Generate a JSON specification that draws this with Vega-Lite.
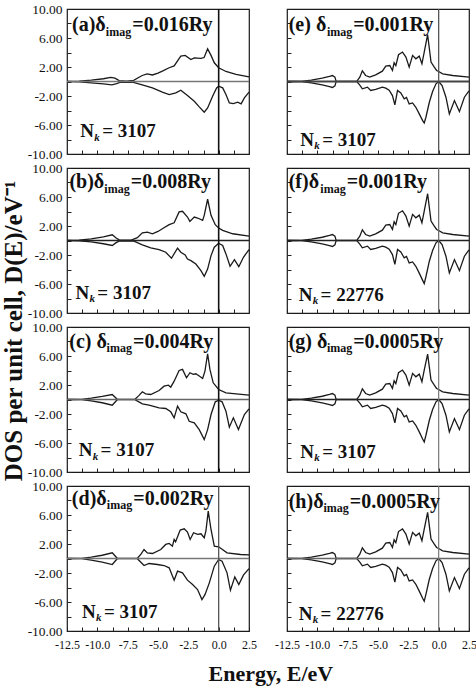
{
"$schema": "https://vega.github.io/schema/vega-lite/v6.json",
"background": "white",
"padding": {"left": 1, "top": 1, "right": 0, "bottom": 2},
"config": {
 "font": "Liberation Serif, Times New Roman, Times, serif",
 "view": {"stroke": "#1a1a1a", "strokeWidth": 1.2},
 "axis": {"grid": false, "domain": false, "tickSize": -4, "tickColor": "#222", "tickWidth": 1, "tickCount": 40, "labelFont": "Liberation Serif, Times New Roman, Times, serif", "labelColor": "#111", "labelOverlap": false, "labelFlush": false, "labelBound": false},
 "axisX": {"labelFontSize": 12, "labelPadding": 12},
 "axisY": {"labelFontSize": 13.5, "labelPadding": 9},
 "text": {"font": "Liberation Serif, Times New Roman, Times, serif", "fontWeight": "bold", "align": "left", "baseline": "alphabetic", "color": "#111"},
 "title": {"font": "Liberation Serif, Times New Roman, Times, serif", "fontWeight": "bold", "color": "#111"}
},
"datasets": {
 "a": [
  {"s":"u","E":-12.5,"D":0},{"s":"u","E":-11.5,"D":0.04},{"s":"u","E":-10.5,"D":0.18},{"s":"u","E":-9.5,"D":0.38},{"s":"u","E":-8.9,"D":0.58},{"s":"u","E":-8.55,"D":0.45},{"s":"u","E":-8.2,"D":0.12},{"s":"u","E":-7.6,"D":0.05},{"s":"u","E":-7.0,"D":0.15},{"s":"u","E":-6.6,"D":0.55},{"s":"u","E":-6.3,"D":0.83},{"s":"u","E":-5.9,"D":1.06},{"s":"u","E":-5.46,"D":0.9},{"s":"u","E":-5.0,"D":1.15},{"s":"u","E":-4.64,"D":1.43},{"s":"u","E":-4.08,"D":1.9},{"s":"u","E":-3.67,"D":2.15},{"s":"u","E":-3.12,"D":3.5},{"s":"u","E":-2.76,"D":3.6},{"s":"u","E":-2.29,"D":3.04},{"s":"u","E":-2.01,"D":3.27},{"s":"u","E":-1.46,"D":3.18},{"s":"u","E":-1.2,"D":3.3},{"s":"u","E":-0.91,"D":4.5},{"s":"u","E":-0.63,"D":3.6},{"s":"u","E":-0.36,"D":2.58},{"s":"u","E":0,"D":1.9},{"s":"u","E":0.6,"D":1.38},{"s":"u","E":1.43,"D":0.97},{"s":"u","E":2.5,"D":0.63},
  {"s":"d","E":-12.5,"D":0},{"s":"d","E":-11.5,"D":-0.04},{"s":"d","E":-10.5,"D":-0.18},{"s":"d","E":-9.5,"D":-0.33},{"s":"d","E":-8.8,"D":-0.46},{"s":"d","E":-8.4,"D":-0.3},{"s":"d","E":-8.1,"D":-0.1},{"s":"d","E":-7.1,"D":-0.1},{"s":"d","E":-6.3,"D":-0.46},{"s":"d","E":-5.46,"D":-0.88},{"s":"d","E":-4.64,"D":-1.47},{"s":"d","E":-4.08,"D":-1.8},{"s":"d","E":-3.53,"D":-1.57},{"s":"d","E":-3.12,"D":-1.2},{"s":"d","E":-2.57,"D":-1.94},{"s":"d","E":-2.01,"D":-2.72},{"s":"d","E":-1.6,"D":-3.5},{"s":"d","E":-1.19,"D":-4.24},{"s":"d","E":-0.91,"D":-3.64},{"s":"d","E":-0.5,"D":-2.03},{"s":"d","E":-0.17,"D":-0.88},{"s":"d","E":0,"D":-0.65},{"s":"d","E":0.33,"D":-0.88},{"s":"d","E":0.6,"D":-1.8},{"s":"d","E":0.88,"D":-2.95},{"s":"d","E":1.21,"D":-3.04},{"s":"d","E":1.57,"D":-2.86},{"s":"d","E":1.85,"D":-3.09},{"s":"d","E":2.12,"D":-2.26},{"s":"d","E":2.5,"D":-1.47}
 ],
 "b": [
  {"s":"u","E":-12.5,"D":0},{"s":"u","E":-11.5,"D":0.05},{"s":"u","E":-10.5,"D":0.22},{"s":"u","E":-9.5,"D":0.5},{"s":"u","E":-8.77,"D":0.79},{"s":"u","E":-8.45,"D":0.35},{"s":"u","E":-8.2,"D":0.08},{"s":"u","E":-7.2,"D":0.05},{"s":"u","E":-6.7,"D":0.4},{"s":"u","E":-6.29,"D":1.06},{"s":"u","E":-5.87,"D":1.16},{"s":"u","E":-5.46,"D":0.93},{"s":"u","E":-5.0,"D":1.25},{"s":"u","E":-4.64,"D":1.62},{"s":"u","E":-4.08,"D":2.18},{"s":"u","E":-3.67,"D":2.45},{"s":"u","E":-3.26,"D":3.94},{"s":"u","E":-2.98,"D":4.03},{"s":"u","E":-2.57,"D":3.24},{"s":"u","E":-2.37,"D":2.64},{"s":"u","E":-2.01,"D":3.24},{"s":"u","E":-1.74,"D":3.1},{"s":"u","E":-1.32,"D":2.78},{"s":"u","E":-1.19,"D":3.47},{"s":"u","E":-0.91,"D":5.69},{"s":"u","E":-0.63,"D":3.47},{"s":"u","E":-0.28,"D":2.18},{"s":"u","E":0,"D":1.71},{"s":"u","E":0.33,"D":1.39},{"s":"u","E":1.16,"D":0.93},{"s":"u","E":2.5,"D":0.6},
  {"s":"d","E":-12.5,"D":0},{"s":"d","E":-11.5,"D":-0.05},{"s":"d","E":-10.5,"D":-0.2},{"s":"d","E":-9.5,"D":-0.45},{"s":"d","E":-8.77,"D":-0.69},{"s":"d","E":-8.45,"D":-0.3},{"s":"d","E":-8.2,"D":-0.08},{"s":"d","E":-6.98,"D":-0.1},{"s":"d","E":-6.29,"D":-0.6},{"s":"d","E":-5.6,"D":-1.02},{"s":"d","E":-4.91,"D":-1.25},{"s":"d","E":-4.36,"D":-1.62},{"s":"d","E":-3.89,"D":-2.45},{"s":"d","E":-3.39,"D":-1.06},{"s":"d","E":-3.12,"D":-1.62},{"s":"d","E":-2.76,"D":-1.99},{"s":"d","E":-2.57,"D":-2.55},{"s":"d","E":-2.29,"D":-2.78},{"s":"d","E":-1.88,"D":-3.24},{"s":"d","E":-1.46,"D":-4.17},{"s":"d","E":-1.19,"D":-4.95},{"s":"d","E":-0.91,"D":-3.94},{"s":"d","E":-0.63,"D":-2.08},{"s":"d","E":-0.36,"D":-0.93},{"s":"d","E":0,"D":-0.37},{"s":"d","E":0.33,"D":-0.69},{"s":"d","E":0.6,"D":-1.85},{"s":"d","E":0.94,"D":-3.56},{"s":"d","E":1.3,"D":-2.64},{"s":"d","E":1.66,"D":-3.61},{"s":"d","E":2.04,"D":-2.31},{"s":"d","E":2.5,"D":-1.25}
 ],
 "c": [
  {"s":"u","E":-12.5,"D":0},{"s":"u","E":-11.3,"D":0.03},{"s":"u","E":-10.5,"D":0.18},{"s":"u","E":-9.6,"D":0.42},{"s":"u","E":-8.77,"D":0.69},{"s":"u","E":-8.36,"D":0.03},{"s":"u","E":-6.9,"D":0.03},{"s":"u","E":-6.6,"D":0.5},{"s":"u","E":-6.29,"D":1.06},{"s":"u","E":-6.02,"D":0.78},{"s":"u","E":-5.6,"D":0.69},{"s":"u","E":-4.91,"D":1.24},{"s":"u","E":-4.5,"D":1.84},{"s":"u","E":-4.14,"D":1.98},{"s":"u","E":-3.95,"D":1.7},{"s":"u","E":-3.67,"D":2.53},{"s":"u","E":-3.26,"D":4.0},{"s":"u","E":-2.98,"D":4.15},{"s":"u","E":-2.65,"D":3.0},{"s":"u","E":-2.37,"D":3.69},{"s":"u","E":-2.1,"D":3.46},{"s":"u","E":-1.88,"D":3.55},{"s":"u","E":-1.6,"D":3.23},{"s":"u","E":-1.32,"D":2.9},{"s":"u","E":-1.13,"D":3.92},{"s":"u","E":-0.91,"D":6.31},{"s":"u","E":-0.72,"D":4.15},{"s":"u","E":-0.45,"D":2.3},{"s":"u","E":0,"D":1.38},{"s":"u","E":0.6,"D":0.92},{"s":"u","E":2.5,"D":0.6},
  {"s":"d","E":-12.5,"D":0},{"s":"d","E":-11.3,"D":-0.03},{"s":"d","E":-10.5,"D":-0.2},{"s":"d","E":-9.6,"D":-0.45},{"s":"d","E":-8.77,"D":-0.78},{"s":"d","E":-8.36,"D":-0.03},{"s":"d","E":-6.9,"D":-0.03},{"s":"d","E":-6.29,"D":-0.6},{"s":"d","E":-5.74,"D":-0.78},{"s":"d","E":-4.91,"D":-1.15},{"s":"d","E":-4.36,"D":-1.24},{"s":"d","E":-3.95,"D":-1.7},{"s":"d","E":-3.67,"D":-2.53},{"s":"d","E":-3.39,"D":-0.92},{"s":"d","E":-3.12,"D":-1.7},{"s":"d","E":-2.7,"D":-1.98},{"s":"d","E":-2.43,"D":-3.0},{"s":"d","E":-2.01,"D":-3.23},{"s":"d","E":-1.6,"D":-4.15},{"s":"d","E":-1.19,"D":-5.53},{"s":"d","E":-0.91,"D":-4.15},{"s":"d","E":-0.63,"D":-2.07},{"s":"d","E":-0.28,"D":-0.32},{"s":"d","E":0,"D":-0.09},{"s":"d","E":0.28,"D":-0.32},{"s":"d","E":0.6,"D":-1.61},{"s":"d","E":0.88,"D":-3.82},{"s":"d","E":1.21,"D":-2.53},{"s":"d","E":1.63,"D":-4.15},{"s":"d","E":2.12,"D":-2.07},{"s":"d","E":2.5,"D":-1.3}
 ],
 "d": [
  {"s":"u","E":-12.5,"D":0},{"s":"u","E":-11.3,"D":0.03},{"s":"u","E":-10.5,"D":0.2},{"s":"u","E":-9.6,"D":0.45},{"s":"u","E":-8.77,"D":0.78},{"s":"u","E":-8.36,"D":0.03},{"s":"u","E":-6.7,"D":0.03},{"s":"u","E":-6.4,"D":0.6},{"s":"u","E":-6.15,"D":1.24},{"s":"u","E":-5.88,"D":0.78},{"s":"u","E":-5.46,"D":0.69},{"s":"u","E":-4.77,"D":1.24},{"s":"u","E":-4.36,"D":1.94},{"s":"u","E":-4.08,"D":2.07},{"s":"u","E":-3.81,"D":1.7},{"s":"u","E":-3.67,"D":2.63},{"s":"u","E":-3.55,"D":2.3},{"s":"u","E":-3.17,"D":3.92},{"s":"u","E":-2.84,"D":4.1},{"s":"u","E":-2.57,"D":3.64},{"s":"u","E":-2.35,"D":2.63},{"s":"u","E":-2.07,"D":3.55},{"s":"u","E":-1.74,"D":3.32},{"s":"u","E":-1.46,"D":3.41},{"s":"u","E":-1.19,"D":2.86},{"s":"u","E":-1.05,"D":3.8},{"s":"u","E":-0.86,"D":6.54},{"s":"u","E":-0.63,"D":4.0},{"s":"u","E":-0.36,"D":1.7},{"s":"u","E":0,"D":1.61},{"s":"u","E":0.69,"D":0.78},{"s":"u","E":1.8,"D":0.55},{"s":"u","E":2.5,"D":0.5},
  {"s":"d","E":-12.5,"D":0},{"s":"d","E":-11.3,"D":-0.03},{"s":"d","E":-10.5,"D":-0.22},{"s":"d","E":-9.6,"D":-0.5},{"s":"d","E":-8.77,"D":-0.83},{"s":"d","E":-8.36,"D":-0.03},{"s":"d","E":-6.7,"D":-0.03},{"s":"d","E":-6.15,"D":-0.97},{"s":"d","E":-5.74,"D":-0.69},{"s":"d","E":-5.05,"D":-0.83},{"s":"d","E":-4.5,"D":-0.97},{"s":"d","E":-4.08,"D":-1.29},{"s":"d","E":-3.67,"D":-3.0},{"s":"d","E":-3.39,"D":-1.75},{"s":"d","E":-2.98,"D":-1.98},{"s":"d","E":-2.57,"D":-2.99},{"s":"d","E":-2.15,"D":-3.59},{"s":"d","E":-1.74,"D":-4.29},{"s":"d","E":-1.38,"D":-5.67},{"s":"d","E":-1.13,"D":-4.98},{"s":"d","E":-0.77,"D":-3.36},{"s":"d","E":-0.36,"D":-1.06},{"s":"d","E":0,"D":-0.14},{"s":"d","E":0.28,"D":-0.37},{"s":"d","E":0.69,"D":-1.98},{"s":"d","E":0.97,"D":-4.38},{"s":"d","E":1.33,"D":-2.53},{"s":"d","E":1.66,"D":-3.6},{"s":"d","E":2.04,"D":-2.3},{"s":"d","E":2.5,"D":-1.4}
 ],
 "e": [
  {"s":"u","E":-12.5,"D":0},{"s":"u","E":-11.3,"D":0.02},{"s":"u","E":-10.5,"D":0.2},{"s":"u","E":-9.6,"D":0.45},{"s":"u","E":-9.0,"D":0.7},{"s":"u","E":-8.75,"D":0.82},{"s":"u","E":-8.55,"D":0.6},{"s":"u","E":-8.45,"D":0.02},{"s":"u","E":-6.75,"D":0.02},{"s":"u","E":-6.5,"D":0.6},{"s":"u","E":-6.29,"D":1.47},{"s":"u","E":-6.02,"D":0.83},{"s":"u","E":-5.68,"D":0.6},{"s":"u","E":-5.19,"D":0.92},{"s":"u","E":-4.64,"D":1.43},{"s":"u","E":-4.36,"D":2.12},{"s":"u","E":-4.03,"D":2.2},{"s":"u","E":-3.81,"D":1.52},{"s":"u","E":-3.67,"D":2.58},{"s":"u","E":-3.53,"D":2.2},{"s":"u","E":-3.31,"D":3.69},{"s":"u","E":-2.98,"D":4.06},{"s":"u","E":-2.7,"D":3.36},{"s":"u","E":-2.43,"D":1.98},{"s":"u","E":-2.15,"D":3.6},{"s":"u","E":-1.88,"D":3.13},{"s":"u","E":-1.6,"D":3.5},{"s":"u","E":-1.38,"D":2.44},{"s":"u","E":-1.19,"D":4.06},{"s":"u","E":-0.91,"D":6.45},{"s":"u","E":-0.63,"D":2.67},{"s":"u","E":-0.36,"D":1.98},{"s":"u","E":-0.17,"D":1.52},{"s":"u","E":0,"D":1.38},{"s":"u","E":0.33,"D":1.06},{"s":"u","E":1.16,"D":0.83},{"s":"u","E":2.5,"D":0.6},
  {"s":"d","E":-12.5,"D":0},{"s":"d","E":-11.3,"D":-0.02},{"s":"d","E":-10.5,"D":-0.2},{"s":"d","E":-9.6,"D":-0.45},{"s":"d","E":-9.0,"D":-0.7},{"s":"d","E":-8.75,"D":-0.82},{"s":"d","E":-8.55,"D":-0.6},{"s":"d","E":-8.45,"D":-0.02},{"s":"d","E":-6.75,"D":-0.02},{"s":"d","E":-6.5,"D":-0.5},{"s":"d","E":-6.29,"D":-1.01},{"s":"d","E":-5.87,"D":-0.78},{"s":"d","E":-5.6,"D":-1.24},{"s":"d","E":-5.19,"D":-1.1},{"s":"d","E":-4.64,"D":-0.78},{"s":"d","E":-4.36,"D":-0.92},{"s":"d","E":-4.08,"D":-1.2},{"s":"d","E":-3.81,"D":-1.94},{"s":"d","E":-3.61,"D":-3.23},{"s":"d","E":-3.39,"D":-1.24},{"s":"d","E":-3.12,"D":-1.57},{"s":"d","E":-2.84,"D":-2.4},{"s":"d","E":-2.65,"D":-2.2},{"s":"d","E":-2.43,"D":-3.09},{"s":"d","E":-2.15,"D":-2.95},{"s":"d","E":-1.88,"D":-3.55},{"s":"d","E":-1.6,"D":-4.47},{"s":"d","E":-1.32,"D":-5.39},{"s":"d","E":-1.19,"D":-5.71},{"s":"d","E":-1.05,"D":-4.93},{"s":"d","E":-0.77,"D":-2.86},{"s":"d","E":-0.5,"D":-1.38},{"s":"d","E":-0.22,"D":-0.32},{"s":"d","E":0,"D":0},{"s":"d","E":0.28,"D":-0.55},{"s":"d","E":0.6,"D":-2.17},{"s":"d","E":0.88,"D":-4.47},{"s":"d","E":1.3,"D":-2.63},{"s":"d","E":1.71,"D":-4.15},{"s":"d","E":2.12,"D":-2.17},{"s":"d","E":2.5,"D":-1.3}
 ],
 "f": [
  {"s":"u","E":-12.5,"D":0},{"s":"u","E":-11.3,"D":0.02},{"s":"u","E":-10.5,"D":0.2},{"s":"u","E":-9.6,"D":0.45},{"s":"u","E":-9.0,"D":0.7},{"s":"u","E":-8.75,"D":0.82},{"s":"u","E":-8.55,"D":0.6},{"s":"u","E":-8.45,"D":0.02},{"s":"u","E":-6.75,"D":0.02},{"s":"u","E":-6.5,"D":0.6},{"s":"u","E":-6.29,"D":1.47},{"s":"u","E":-6.02,"D":0.83},{"s":"u","E":-5.68,"D":0.6},{"s":"u","E":-5.19,"D":0.92},{"s":"u","E":-4.64,"D":1.43},{"s":"u","E":-4.36,"D":2.12},{"s":"u","E":-4.03,"D":2.2},{"s":"u","E":-3.81,"D":1.52},{"s":"u","E":-3.67,"D":2.58},{"s":"u","E":-3.53,"D":2.2},{"s":"u","E":-3.31,"D":3.75},{"s":"u","E":-2.98,"D":4.1},{"s":"u","E":-2.7,"D":3.36},{"s":"u","E":-2.43,"D":1.98},{"s":"u","E":-2.15,"D":3.6},{"s":"u","E":-1.88,"D":3.13},{"s":"u","E":-1.6,"D":3.5},{"s":"u","E":-1.38,"D":2.44},{"s":"u","E":-1.19,"D":4.06},{"s":"u","E":-0.91,"D":6.45},{"s":"u","E":-0.63,"D":2.67},{"s":"u","E":-0.36,"D":1.98},{"s":"u","E":-0.17,"D":1.52},{"s":"u","E":0,"D":1.38},{"s":"u","E":0.33,"D":1.06},{"s":"u","E":1.16,"D":0.83},{"s":"u","E":2.5,"D":0.6},
  {"s":"d","E":-12.5,"D":0},{"s":"d","E":-11.3,"D":-0.02},{"s":"d","E":-10.5,"D":-0.2},{"s":"d","E":-9.6,"D":-0.45},{"s":"d","E":-9.0,"D":-0.7},{"s":"d","E":-8.75,"D":-0.82},{"s":"d","E":-8.55,"D":-0.6},{"s":"d","E":-8.45,"D":-0.02},{"s":"d","E":-6.75,"D":-0.02},{"s":"d","E":-6.5,"D":-0.5},{"s":"d","E":-6.29,"D":-1.01},{"s":"d","E":-5.87,"D":-0.78},{"s":"d","E":-5.6,"D":-1.24},{"s":"d","E":-5.19,"D":-1.1},{"s":"d","E":-4.64,"D":-0.78},{"s":"d","E":-4.36,"D":-0.92},{"s":"d","E":-4.08,"D":-1.2},{"s":"d","E":-3.81,"D":-1.94},{"s":"d","E":-3.61,"D":-3.3},{"s":"d","E":-3.39,"D":-1.24},{"s":"d","E":-3.12,"D":-1.57},{"s":"d","E":-2.84,"D":-2.4},{"s":"d","E":-2.65,"D":-2.2},{"s":"d","E":-2.43,"D":-3.09},{"s":"d","E":-2.15,"D":-2.95},{"s":"d","E":-1.88,"D":-3.55},{"s":"d","E":-1.6,"D":-4.5},{"s":"d","E":-1.32,"D":-5.5},{"s":"d","E":-1.19,"D":-5.94},{"s":"d","E":-1.05,"D":-5.0},{"s":"d","E":-0.77,"D":-2.86},{"s":"d","E":-0.5,"D":-1.38},{"s":"d","E":-0.22,"D":-0.32},{"s":"d","E":0,"D":0},{"s":"d","E":0.28,"D":-0.55},{"s":"d","E":0.6,"D":-2.17},{"s":"d","E":0.88,"D":-4.47},{"s":"d","E":1.3,"D":-2.63},{"s":"d","E":1.71,"D":-4.15},{"s":"d","E":2.12,"D":-2.17},{"s":"d","E":2.5,"D":-1.3}
 ],
 "g": [
  {"s":"u","E":-12.5,"D":0},{"s":"u","E":-11.3,"D":0.02},{"s":"u","E":-10.5,"D":0.2},{"s":"u","E":-9.6,"D":0.45},{"s":"u","E":-9.0,"D":0.7},{"s":"u","E":-8.75,"D":0.82},{"s":"u","E":-8.55,"D":0.6},{"s":"u","E":-8.45,"D":0.02},{"s":"u","E":-6.75,"D":0.02},{"s":"u","E":-6.5,"D":0.6},{"s":"u","E":-6.29,"D":1.47},{"s":"u","E":-6.02,"D":0.83},{"s":"u","E":-5.68,"D":0.6},{"s":"u","E":-5.19,"D":0.92},{"s":"u","E":-4.64,"D":1.43},{"s":"u","E":-4.36,"D":2.12},{"s":"u","E":-4.03,"D":2.2},{"s":"u","E":-3.81,"D":1.52},{"s":"u","E":-3.67,"D":2.58},{"s":"u","E":-3.53,"D":2.2},{"s":"u","E":-3.31,"D":3.69},{"s":"u","E":-2.98,"D":4.06},{"s":"u","E":-2.7,"D":3.36},{"s":"u","E":-2.43,"D":1.98},{"s":"u","E":-2.15,"D":3.6},{"s":"u","E":-1.88,"D":3.13},{"s":"u","E":-1.6,"D":3.5},{"s":"u","E":-1.38,"D":2.44},{"s":"u","E":-1.19,"D":4.06},{"s":"u","E":-0.91,"D":6.27},{"s":"u","E":-0.63,"D":2.67},{"s":"u","E":-0.36,"D":1.98},{"s":"u","E":-0.17,"D":1.52},{"s":"u","E":0,"D":1.38},{"s":"u","E":0.33,"D":1.06},{"s":"u","E":1.16,"D":0.83},{"s":"u","E":2.5,"D":0.6},
  {"s":"d","E":-12.5,"D":0},{"s":"d","E":-11.3,"D":-0.02},{"s":"d","E":-10.5,"D":-0.2},{"s":"d","E":-9.6,"D":-0.45},{"s":"d","E":-9.0,"D":-0.7},{"s":"d","E":-8.75,"D":-0.82},{"s":"d","E":-8.55,"D":-0.6},{"s":"d","E":-8.45,"D":-0.02},{"s":"d","E":-6.75,"D":-0.02},{"s":"d","E":-6.5,"D":-0.5},{"s":"d","E":-6.29,"D":-1.01},{"s":"d","E":-5.87,"D":-0.78},{"s":"d","E":-5.6,"D":-1.24},{"s":"d","E":-5.19,"D":-1.1},{"s":"d","E":-4.64,"D":-0.78},{"s":"d","E":-4.36,"D":-0.92},{"s":"d","E":-4.08,"D":-1.2},{"s":"d","E":-3.81,"D":-1.94},{"s":"d","E":-3.61,"D":-3.23},{"s":"d","E":-3.39,"D":-1.24},{"s":"d","E":-3.12,"D":-1.57},{"s":"d","E":-2.84,"D":-2.4},{"s":"d","E":-2.65,"D":-2.2},{"s":"d","E":-2.43,"D":-3.09},{"s":"d","E":-2.15,"D":-2.95},{"s":"d","E":-1.88,"D":-3.55},{"s":"d","E":-1.6,"D":-4.47},{"s":"d","E":-1.32,"D":-5.45},{"s":"d","E":-1.19,"D":-5.85},{"s":"d","E":-1.05,"D":-4.93},{"s":"d","E":-0.77,"D":-2.86},{"s":"d","E":-0.5,"D":-1.38},{"s":"d","E":-0.22,"D":-0.32},{"s":"d","E":0,"D":0},{"s":"d","E":0.28,"D":-0.55},{"s":"d","E":0.6,"D":-2.17},{"s":"d","E":0.88,"D":-4.47},{"s":"d","E":1.3,"D":-2.63},{"s":"d","E":1.71,"D":-4.15},{"s":"d","E":2.12,"D":-2.17},{"s":"d","E":2.5,"D":-1.3}
 ],
 "h": [
  {"s":"u","E":-12.5,"D":0},{"s":"u","E":-11.3,"D":0.02},{"s":"u","E":-10.5,"D":0.2},{"s":"u","E":-9.6,"D":0.45},{"s":"u","E":-9.0,"D":0.7},{"s":"u","E":-8.75,"D":0.82},{"s":"u","E":-8.55,"D":0.6},{"s":"u","E":-8.45,"D":0.02},{"s":"u","E":-6.75,"D":0.02},{"s":"u","E":-6.5,"D":0.6},{"s":"u","E":-6.29,"D":1.47},{"s":"u","E":-6.02,"D":0.83},{"s":"u","E":-5.68,"D":0.6},{"s":"u","E":-5.19,"D":0.92},{"s":"u","E":-4.64,"D":1.43},{"s":"u","E":-4.36,"D":2.12},{"s":"u","E":-4.03,"D":2.2},{"s":"u","E":-3.81,"D":1.52},{"s":"u","E":-3.67,"D":2.58},{"s":"u","E":-3.53,"D":2.2},{"s":"u","E":-3.31,"D":3.72},{"s":"u","E":-2.98,"D":4.08},{"s":"u","E":-2.7,"D":3.36},{"s":"u","E":-2.43,"D":1.98},{"s":"u","E":-2.15,"D":3.6},{"s":"u","E":-1.88,"D":3.13},{"s":"u","E":-1.6,"D":3.5},{"s":"u","E":-1.38,"D":2.44},{"s":"u","E":-1.19,"D":4.06},{"s":"u","E":-0.91,"D":6.36},{"s":"u","E":-0.63,"D":2.67},{"s":"u","E":-0.36,"D":1.98},{"s":"u","E":-0.17,"D":1.52},{"s":"u","E":0,"D":1.38},{"s":"u","E":0.33,"D":1.06},{"s":"u","E":1.16,"D":0.83},{"s":"u","E":2.5,"D":0.6},
  {"s":"d","E":-12.5,"D":0},{"s":"d","E":-11.3,"D":-0.02},{"s":"d","E":-10.5,"D":-0.2},{"s":"d","E":-9.6,"D":-0.45},{"s":"d","E":-9.0,"D":-0.7},{"s":"d","E":-8.75,"D":-0.82},{"s":"d","E":-8.55,"D":-0.6},{"s":"d","E":-8.45,"D":-0.02},{"s":"d","E":-6.75,"D":-0.02},{"s":"d","E":-6.5,"D":-0.5},{"s":"d","E":-6.29,"D":-1.01},{"s":"d","E":-5.87,"D":-0.78},{"s":"d","E":-5.6,"D":-1.24},{"s":"d","E":-5.19,"D":-1.1},{"s":"d","E":-4.64,"D":-0.78},{"s":"d","E":-4.36,"D":-0.92},{"s":"d","E":-4.08,"D":-1.2},{"s":"d","E":-3.81,"D":-1.94},{"s":"d","E":-3.61,"D":-3.27},{"s":"d","E":-3.39,"D":-1.24},{"s":"d","E":-3.12,"D":-1.57},{"s":"d","E":-2.84,"D":-2.4},{"s":"d","E":-2.65,"D":-2.2},{"s":"d","E":-2.43,"D":-3.09},{"s":"d","E":-2.15,"D":-2.95},{"s":"d","E":-1.88,"D":-3.55},{"s":"d","E":-1.6,"D":-4.5},{"s":"d","E":-1.32,"D":-5.48},{"s":"d","E":-1.19,"D":-5.9},{"s":"d","E":-1.05,"D":-4.95},{"s":"d","E":-0.77,"D":-2.86},{"s":"d","E":-0.5,"D":-1.38},{"s":"d","E":-0.22,"D":-0.32},{"s":"d","E":0,"D":0},{"s":"d","E":0.28,"D":-0.55},{"s":"d","E":0.6,"D":-2.17},{"s":"d","E":0.88,"D":-4.47},{"s":"d","E":1.3,"D":-2.63},{"s":"d","E":1.71,"D":-4.15},{"s":"d","E":2.12,"D":-2.17},{"s":"d","E":2.5,"D":-1.3}
 ]
},
"title": {"text": "DOS per unit cell, D(E)/eV⁻¹", "orient": "left", "anchor": "middle", "fontSize": 25, "offset": 0, "dx": 12},
"vconcat": [
 {
  "title": {"text": "Energy, E/eV", "orient": "bottom", "anchor": "middle", "fontSize": 22, "offset": 13, "dx": 19},
  "columns": 2, "spacing": {"row": 14, "column": 38}, "bounds": "flush",
  "concat": [
     {"width": 182, "height": 145, "data": {"values": [{}]}, "layer": [
      {"data": {"name": "a"}, "mark": {"type": "line", "color": "#1a1a1a", "strokeWidth": 1.3}, "encoding": {
       "x": {"field": "E", "type": "quantitative", "scale": {"domain": [-12.5, 2.5], "nice": false, "zero": false}, "axis": {"title": null, "tickCount": 40, "labelOverlap": false, "values": [-12.5,-11.25,-10,-8.75,-7.5,-6.25,-5,-3.75,-2.5,-1.25,0,1.25,2.5], "labels": false}},
       "y": {"field": "D", "type": "quantitative", "scale": {"domain": [-10, 10], "nice": false, "zero": false}, "axis": {"title": null, "tickCount": 40, "labelOverlap": false, "values": [-10,-8,-6,-4,-2,0,2,4,6,8,10], "labelExpr": "(datum.value + 10) % 4 == 0 ? replace(format(datum.value, '.2f'), '−', '-') : ''"}},
       "detail": {"field": "s"}}},
      {"mark": {"type": "rule", "color": "#777", "strokeWidth": 1.4}, "encoding": {"y": {"datum": 0, "type": "quantitative"}}},
      {"mark": {"type": "rule", "color": "#111", "strokeWidth": 1.6}, "encoding": {"x": {"datum": 0, "type": "quantitative"}}},
      {"mark": {"type": "text", "fontSize": 20}, "encoding": {"x": {"datum": -12.09, "type": "quantitative"}, "y": {"datum": 6.9, "type": "quantitative"}, "text": {"value": "(a)δ"}}},
      {"mark": {"type": "text", "fontSize": 12}, "encoding": {"x": {"datum": -9.3, "type": "quantitative"}, "y": {"datum": 6.3, "type": "quantitative"}, "text": {"value": "imag"}}},
      {"mark": {"type": "text", "fontSize": 20}, "encoding": {"x": {"datum": -7.12, "type": "quantitative"}, "y": {"datum": 6.9, "type": "quantitative"}, "text": {"value": "=0.016Ry"}}},
      {"mark": {"type": "text", "fontSize": 19}, "encoding": {"x": {"datum": -11.4, "type": "quantitative"}, "y": {"datum": -7.7, "type": "quantitative"}, "text": {"value": "N"}}},
      {"mark": {"type": "text", "fontSize": 11, "fontStyle": "italic"}, "encoding": {"x": {"datum": -10.25, "type": "quantitative"}, "y": {"datum": -8.15, "type": "quantitative"}, "text": {"value": "k"}}},
      {"mark": {"type": "text", "fontSize": 19}, "encoding": {"x": {"datum": -9.6, "type": "quantitative"}, "y": {"datum": -7.7, "type": "quantitative"}, "text": {"value": "= 3107"}}}
     ]},
     {"width": 182, "height": 145, "data": {"values": [{}]}, "layer": [
      {"data": {"name": "e"}, "mark": {"type": "line", "color": "#1a1a1a", "strokeWidth": 1.3}, "encoding": {
       "x": {"field": "E", "type": "quantitative", "scale": {"domain": [-12.5, 2.5], "nice": false, "zero": false}, "axis": {"title": null, "tickCount": 40, "labelOverlap": false, "values": [-12.5,-11.25,-10,-8.75,-7.5,-6.25,-5,-3.75,-2.5,-1.25,0,1.25,2.5], "labels": false}},
       "y": {"field": "D", "type": "quantitative", "scale": {"domain": [-10, 10], "nice": false, "zero": false}, "axis": {"title": null, "tickCount": 40, "labelOverlap": false, "values": [-10,-8,-6,-4,-2,0,2,4,6,8,10], "labels": false}},
       "detail": {"field": "s"}}},
      {"mark": {"type": "rule", "color": "#444", "strokeWidth": 1.8}, "encoding": {"y": {"datum": 0, "type": "quantitative"}}},
      {"mark": {"type": "rule", "color": "#555", "strokeWidth": 1.3}, "encoding": {"x": {"datum": 0, "type": "quantitative"}}},
      {"mark": {"type": "text", "fontSize": 20}, "encoding": {"x": {"datum": -12.36, "type": "quantitative"}, "y": {"datum": 6.9, "type": "quantitative"}, "text": {"value": "(e) δ"}}},
      {"mark": {"type": "text", "fontSize": 12}, "encoding": {"x": {"datum": -9.2, "type": "quantitative"}, "y": {"datum": 6.3, "type": "quantitative"}, "text": {"value": "imag"}}},
      {"mark": {"type": "text", "fontSize": 20}, "encoding": {"x": {"datum": -7.05, "type": "quantitative"}, "y": {"datum": 6.9, "type": "quantitative"}, "text": {"value": "=0.001Ry"}}},
      {"mark": {"type": "text", "fontSize": 19}, "encoding": {"x": {"datum": -11.4, "type": "quantitative"}, "y": {"datum": -8.9, "type": "quantitative"}, "text": {"value": "N"}}},
      {"mark": {"type": "text", "fontSize": 11, "fontStyle": "italic"}, "encoding": {"x": {"datum": -10.25, "type": "quantitative"}, "y": {"datum": -9.35, "type": "quantitative"}, "text": {"value": "k"}}},
      {"mark": {"type": "text", "fontSize": 19}, "encoding": {"x": {"datum": -9.6, "type": "quantitative"}, "y": {"datum": -8.9, "type": "quantitative"}, "text": {"value": "= 3107"}}}
     ]},
     {"width": 182, "height": 145, "data": {"values": [{}]}, "layer": [
      {"data": {"name": "b"}, "mark": {"type": "line", "color": "#1a1a1a", "strokeWidth": 1.3}, "encoding": {
       "x": {"field": "E", "type": "quantitative", "scale": {"domain": [-12.5, 2.5], "nice": false, "zero": false}, "axis": {"title": null, "tickCount": 40, "labelOverlap": false, "values": [-12.5,-11.25,-10,-8.75,-7.5,-6.25,-5,-3.75,-2.5,-1.25,0,1.25,2.5], "labels": false}},
       "y": {"field": "D", "type": "quantitative", "scale": {"domain": [-10, 10], "nice": false, "zero": false}, "axis": {"title": null, "tickCount": 40, "labelOverlap": false, "values": [-10,-8,-6,-4,-2,0,2,4,6,8,10], "labelExpr": "(datum.value + 10) % 4 == 0 ? replace(format(datum.value, '.2f'), '−', '-') : ''"}},
       "detail": {"field": "s"}}},
      {"mark": {"type": "rule", "color": "#222", "strokeWidth": 1.3}, "encoding": {"y": {"datum": 0, "type": "quantitative"}}},
      {"mark": {"type": "rule", "color": "#111", "strokeWidth": 1.6}, "encoding": {"x": {"datum": 0, "type": "quantitative"}}},
      {"mark": {"type": "text", "fontSize": 20}, "encoding": {"x": {"datum": -12.3, "type": "quantitative"}, "y": {"datum": 7.2, "type": "quantitative"}, "text": {"value": "(b)δ"}}},
      {"mark": {"type": "text", "fontSize": 12}, "encoding": {"x": {"datum": -9.42, "type": "quantitative"}, "y": {"datum": 6.6, "type": "quantitative"}, "text": {"value": "imag"}}},
      {"mark": {"type": "text", "fontSize": 20}, "encoding": {"x": {"datum": -7.24, "type": "quantitative"}, "y": {"datum": 7.2, "type": "quantitative"}, "text": {"value": "=0.008Ry"}}},
      {"mark": {"type": "text", "fontSize": 19}, "encoding": {"x": {"datum": -11.8, "type": "quantitative"}, "y": {"datum": -8.0, "type": "quantitative"}, "text": {"value": "N"}}},
      {"mark": {"type": "text", "fontSize": 11, "fontStyle": "italic"}, "encoding": {"x": {"datum": -10.65, "type": "quantitative"}, "y": {"datum": -8.45, "type": "quantitative"}, "text": {"value": "k"}}},
      {"mark": {"type": "text", "fontSize": 19}, "encoding": {"x": {"datum": -10.0, "type": "quantitative"}, "y": {"datum": -8.0, "type": "quantitative"}, "text": {"value": "= 3107"}}}
     ]},
     {"width": 182, "height": 145, "data": {"values": [{}]}, "layer": [
      {"data": {"name": "f"}, "mark": {"type": "line", "color": "#1a1a1a", "strokeWidth": 1.3}, "encoding": {
       "x": {"field": "E", "type": "quantitative", "scale": {"domain": [-12.5, 2.5], "nice": false, "zero": false}, "axis": {"title": null, "tickCount": 40, "labelOverlap": false, "values": [-12.5,-11.25,-10,-8.75,-7.5,-6.25,-5,-3.75,-2.5,-1.25,0,1.25,2.5], "labels": false}},
       "y": {"field": "D", "type": "quantitative", "scale": {"domain": [-10, 10], "nice": false, "zero": false}, "axis": {"title": null, "tickCount": 40, "labelOverlap": false, "values": [-10,-8,-6,-4,-2,0,2,4,6,8,10], "labels": false}},
       "detail": {"field": "s"}}},
      {"mark": {"type": "rule", "color": "#222", "strokeWidth": 1.3}, "encoding": {"y": {"datum": 0, "type": "quantitative"}}},
      {"mark": {"type": "rule", "color": "#666", "strokeWidth": 1.2}, "encoding": {"x": {"datum": 0, "type": "quantitative"}}},
      {"mark": {"type": "text", "fontSize": 20}, "encoding": {"x": {"datum": -12.36, "type": "quantitative"}, "y": {"datum": 7.2, "type": "quantitative"}, "text": {"value": "(f)δ"}}},
      {"mark": {"type": "text", "fontSize": 12}, "encoding": {"x": {"datum": -9.75, "type": "quantitative"}, "y": {"datum": 6.6, "type": "quantitative"}, "text": {"value": "imag"}}},
      {"mark": {"type": "text", "fontSize": 20}, "encoding": {"x": {"datum": -7.57, "type": "quantitative"}, "y": {"datum": 7.2, "type": "quantitative"}, "text": {"value": "=0.001Ry"}}},
      {"mark": {"type": "text", "fontSize": 19}, "encoding": {"x": {"datum": -11.53, "type": "quantitative"}, "y": {"datum": -8.3, "type": "quantitative"}, "text": {"value": "N"}}},
      {"mark": {"type": "text", "fontSize": 11, "fontStyle": "italic"}, "encoding": {"x": {"datum": -10.38, "type": "quantitative"}, "y": {"datum": -8.75, "type": "quantitative"}, "text": {"value": "k"}}},
      {"mark": {"type": "text", "fontSize": 19}, "encoding": {"x": {"datum": -9.73, "type": "quantitative"}, "y": {"datum": -8.3, "type": "quantitative"}, "text": {"value": "= 22776"}}}
     ]},
     {"width": 182, "height": 145, "data": {"values": [{}]}, "layer": [
      {"data": {"name": "c"}, "mark": {"type": "line", "color": "#1a1a1a", "strokeWidth": 1.3}, "encoding": {
       "x": {"field": "E", "type": "quantitative", "scale": {"domain": [-12.5, 2.5], "nice": false, "zero": false}, "axis": {"title": null, "tickCount": 40, "labelOverlap": false, "values": [-12.5,-11.25,-10,-8.75,-7.5,-6.25,-5,-3.75,-2.5,-1.25,0,1.25,2.5], "labels": false}},
       "y": {"field": "D", "type": "quantitative", "scale": {"domain": [-10, 10], "nice": false, "zero": false}, "axis": {"title": null, "tickCount": 40, "labelOverlap": false, "values": [-10,-8,-6,-4,-2,0,2,4,6,8,10], "labelExpr": "(datum.value + 10) % 4 == 0 ? replace(format(datum.value, '.2f'), '−', '-') : ''"}},
       "detail": {"field": "s"}}},
      {"mark": {"type": "rule", "color": "#666", "strokeWidth": 1.4}, "encoding": {"y": {"datum": 0, "type": "quantitative"}}},
      {"mark": {"type": "rule", "color": "#111", "strokeWidth": 1.6}, "encoding": {"x": {"datum": 0, "type": "quantitative"}}},
      {"mark": {"type": "text", "fontSize": 20}, "encoding": {"x": {"datum": -12.31, "type": "quantitative"}, "y": {"datum": 7.1, "type": "quantitative"}, "text": {"value": "(c) δ"}}},
      {"mark": {"type": "text", "fontSize": 12}, "encoding": {"x": {"datum": -9.24, "type": "quantitative"}, "y": {"datum": 6.5, "type": "quantitative"}, "text": {"value": "imag"}}},
      {"mark": {"type": "text", "fontSize": 20}, "encoding": {"x": {"datum": -7.06, "type": "quantitative"}, "y": {"datum": 7.1, "type": "quantitative"}, "text": {"value": "=0.004Ry"}}},
      {"mark": {"type": "text", "fontSize": 19}, "encoding": {"x": {"datum": -11.53, "type": "quantitative"}, "y": {"datum": -7.85, "type": "quantitative"}, "text": {"value": "N"}}},
      {"mark": {"type": "text", "fontSize": 11, "fontStyle": "italic"}, "encoding": {"x": {"datum": -10.38, "type": "quantitative"}, "y": {"datum": -8.3, "type": "quantitative"}, "text": {"value": "k"}}},
      {"mark": {"type": "text", "fontSize": 19}, "encoding": {"x": {"datum": -9.73, "type": "quantitative"}, "y": {"datum": -7.85, "type": "quantitative"}, "text": {"value": "= 3107"}}}
     ]},
     {"width": 182, "height": 145, "data": {"values": [{}]}, "layer": [
      {"data": {"name": "g"}, "mark": {"type": "line", "color": "#1a1a1a", "strokeWidth": 1.3}, "encoding": {
       "x": {"field": "E", "type": "quantitative", "scale": {"domain": [-12.5, 2.5], "nice": false, "zero": false}, "axis": {"title": null, "tickCount": 40, "labelOverlap": false, "values": [-12.5,-11.25,-10,-8.75,-7.5,-6.25,-5,-3.75,-2.5,-1.25,0,1.25,2.5], "labels": false}},
       "y": {"field": "D", "type": "quantitative", "scale": {"domain": [-10, 10], "nice": false, "zero": false}, "axis": {"title": null, "tickCount": 40, "labelOverlap": false, "values": [-10,-8,-6,-4,-2,0,2,4,6,8,10], "labels": false}},
       "detail": {"field": "s"}}},
      {"mark": {"type": "rule", "color": "#222", "strokeWidth": 1.3}, "encoding": {"y": {"datum": 0, "type": "quantitative"}}},
      {"mark": {"type": "rule", "color": "#777", "strokeWidth": 1.2}, "encoding": {"x": {"datum": 0, "type": "quantitative"}}},
      {"mark": {"type": "text", "fontSize": 20}, "encoding": {"x": {"datum": -12.36, "type": "quantitative"}, "y": {"datum": 7.1, "type": "quantitative"}, "text": {"value": "(g) δ"}}},
      {"mark": {"type": "text", "fontSize": 12}, "encoding": {"x": {"datum": -9.2, "type": "quantitative"}, "y": {"datum": 6.5, "type": "quantitative"}, "text": {"value": "imag"}}},
      {"mark": {"type": "text", "fontSize": 20}, "encoding": {"x": {"datum": -7.05, "type": "quantitative"}, "y": {"datum": 7.1, "type": "quantitative"}, "text": {"value": "=0.0005Ry"}}},
      {"mark": {"type": "text", "fontSize": 19}, "encoding": {"x": {"datum": -11.4, "type": "quantitative"}, "y": {"datum": -8.0, "type": "quantitative"}, "text": {"value": "N"}}},
      {"mark": {"type": "text", "fontSize": 11, "fontStyle": "italic"}, "encoding": {"x": {"datum": -10.25, "type": "quantitative"}, "y": {"datum": -8.45, "type": "quantitative"}, "text": {"value": "k"}}},
      {"mark": {"type": "text", "fontSize": 19}, "encoding": {"x": {"datum": -9.6, "type": "quantitative"}, "y": {"datum": -8.0, "type": "quantitative"}, "text": {"value": "= 3107"}}}
     ]},
     {"width": 182, "height": 145, "data": {"values": [{}]}, "layer": [
      {"data": {"name": "d"}, "mark": {"type": "line", "color": "#1a1a1a", "strokeWidth": 1.3}, "encoding": {
       "x": {"field": "E", "type": "quantitative", "scale": {"domain": [-12.5, 2.5], "nice": false, "zero": false}, "axis": {"title": null, "tickCount": 40, "labelOverlap": false, "values": [-12.5,-11.25,-10,-8.75,-7.5,-6.25,-5,-3.75,-2.5,-1.25,0,1.25,2.5], "labelExpr": "abs(datum.value * 0.4 - round(datum.value * 0.4)) < 0.01 ? replace(format(datum.value, '.1f'), '−', '-') : ''"}},
       "y": {"field": "D", "type": "quantitative", "scale": {"domain": [-10, 10], "nice": false, "zero": false}, "axis": {"title": null, "tickCount": 40, "labelOverlap": false, "values": [-10,-8,-6,-4,-2,0,2,4,6,8,10], "labelExpr": "(datum.value + 10) % 4 == 0 ? replace(format(datum.value, '.2f'), '−', '-') : ''"}},
       "detail": {"field": "s"}}},
      {"mark": {"type": "rule", "color": "#777", "strokeWidth": 1.4}, "encoding": {"y": {"datum": 0, "type": "quantitative"}}},
      {"mark": {"type": "rule", "color": "#555", "strokeWidth": 1.3}, "encoding": {"x": {"datum": 0, "type": "quantitative"}}},
      {"mark": {"type": "text", "fontSize": 20}, "encoding": {"x": {"datum": -12.1, "type": "quantitative"}, "y": {"datum": 7.4, "type": "quantitative"}, "text": {"value": "(d)δ"}}},
      {"mark": {"type": "text", "fontSize": 12}, "encoding": {"x": {"datum": -9.22, "type": "quantitative"}, "y": {"datum": 6.8, "type": "quantitative"}, "text": {"value": "imag"}}},
      {"mark": {"type": "text", "fontSize": 20}, "encoding": {"x": {"datum": -7.04, "type": "quantitative"}, "y": {"datum": 7.4, "type": "quantitative"}, "text": {"value": "=0.002Ry"}}},
      {"mark": {"type": "text", "fontSize": 19}, "encoding": {"x": {"datum": -11.26, "type": "quantitative"}, "y": {"datum": -8.15, "type": "quantitative"}, "text": {"value": "N"}}},
      {"mark": {"type": "text", "fontSize": 11, "fontStyle": "italic"}, "encoding": {"x": {"datum": -10.11, "type": "quantitative"}, "y": {"datum": -8.6, "type": "quantitative"}, "text": {"value": "k"}}},
      {"mark": {"type": "text", "fontSize": 19}, "encoding": {"x": {"datum": -9.46, "type": "quantitative"}, "y": {"datum": -8.15, "type": "quantitative"}, "text": {"value": "= 3107"}}}
     ]},
     {"width": 182, "height": 145, "data": {"values": [{}]}, "layer": [
      {"data": {"name": "h"}, "mark": {"type": "line", "color": "#1a1a1a", "strokeWidth": 1.3}, "encoding": {
       "x": {"field": "E", "type": "quantitative", "scale": {"domain": [-12.5, 2.5], "nice": false, "zero": false}, "axis": {"title": null, "tickCount": 40, "labelOverlap": false, "values": [-12.5,-11.25,-10,-8.75,-7.5,-6.25,-5,-3.75,-2.5,-1.25,0,1.25,2.5], "labelExpr": "abs(datum.value * 0.4 - round(datum.value * 0.4)) < 0.01 ? replace(format(datum.value, '.1f'), '−', '-') : ''"}},
       "y": {"field": "D", "type": "quantitative", "scale": {"domain": [-10, 10], "nice": false, "zero": false}, "axis": {"title": null, "tickCount": 40, "labelOverlap": false, "values": [-10,-8,-6,-4,-2,0,2,4,6,8,10], "labels": false}},
       "detail": {"field": "s"}}},
      {"mark": {"type": "rule", "color": "#666", "strokeWidth": 1.3}, "encoding": {"y": {"datum": 0, "type": "quantitative"}}},
      {"mark": {"type": "rule", "color": "#777", "strokeWidth": 1.2}, "encoding": {"x": {"datum": 0, "type": "quantitative"}}},
      {"mark": {"type": "text", "fontSize": 20}, "encoding": {"x": {"datum": -12.36, "type": "quantitative"}, "y": {"datum": 7.0, "type": "quantitative"}, "text": {"value": "(h)δ"}}},
      {"mark": {"type": "text", "fontSize": 12}, "encoding": {"x": {"datum": -9.5, "type": "quantitative"}, "y": {"datum": 6.4, "type": "quantitative"}, "text": {"value": "imag"}}},
      {"mark": {"type": "text", "fontSize": 20}, "encoding": {"x": {"datum": -7.32, "type": "quantitative"}, "y": {"datum": 7.0, "type": "quantitative"}, "text": {"value": "=0.0005Ry"}}},
      {"mark": {"type": "text", "fontSize": 19}, "encoding": {"x": {"datum": -11.53, "type": "quantitative"}, "y": {"datum": -8.45, "type": "quantitative"}, "text": {"value": "N"}}},
      {"mark": {"type": "text", "fontSize": 11, "fontStyle": "italic"}, "encoding": {"x": {"datum": -10.38, "type": "quantitative"}, "y": {"datum": -8.9, "type": "quantitative"}, "text": {"value": "k"}}},
      {"mark": {"type": "text", "fontSize": 19}, "encoding": {"x": {"datum": -9.73, "type": "quantitative"}, "y": {"datum": -8.45, "type": "quantitative"}, "text": {"value": "= 22776"}}}
     ]}
  ]
 }
]
}
